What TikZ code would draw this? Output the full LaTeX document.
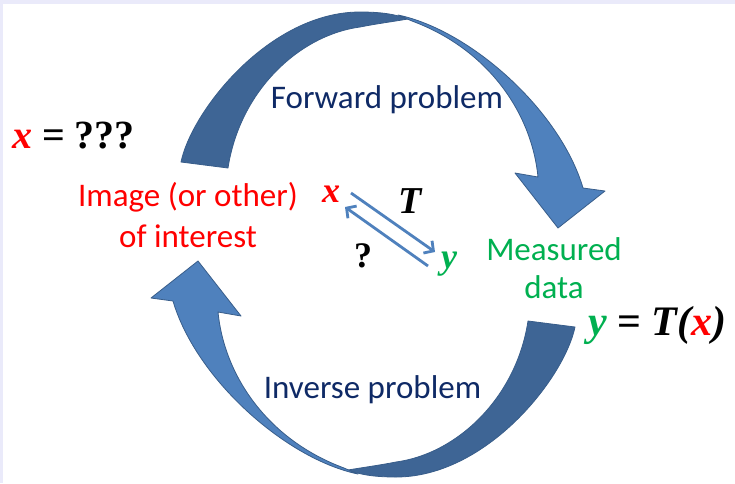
\documentclass[tikz,border=0pt]{standalone}
\usepackage{fontspec}
\setmainfont{Liberation Serif}
\newfontfamily\calibri{Carlito}
\usetikzlibrary{arrows.meta}
\definecolor{lav}{HTML}{EAEAFA}
\definecolor{arrlight}{HTML}{4F81BD}
\definecolor{arrdark}{HTML}{3E6595}
\definecolor{arrline}{HTML}{385D8A}
\definecolor{navy}{HTML}{0F2A66}
\definecolor{mgreen}{HTML}{00B050}
\tikzset{
  rib/.style={draw=arrline, line width=0.8pt, line join=round},
  lbl/.style={font=\calibri\fontsize{33}{40}\selectfont, inner sep=0pt, anchor=base},
  mth/.style={font=\fontsize{40}{48}\selectfont\bfseries, inner sep=0pt, anchor=base west},
  sml/.style={font=\fontsize{36}{40}\selectfont\bfseries\itshape, inner sep=0pt, anchor=base},
  smallarr/.style={draw=arrlight, line width=2.8pt, -{Straight Barb[length=7pt,width=15pt]}},
  curvedarrow/.pic={
    \filldraw[fill=arrdark, rib] (181,162) .. controls (192,110) and (270,12) .. (360,12)
      .. controls (380,12) and (395,14) .. (408,19)
      .. controls (390,22) and (375,24) .. (360,27)
      .. controls (300,35) and (240,90) .. (228,168) -- cycle;
    \filldraw[fill=arrlight, rib] (398,15) .. controls (470,30) and (560,110) .. (583,188)
      -- (605,191) -- (558,228) -- (515,173) -- (538,177)
      .. controls (532,115) and (490,50) .. (412,21) -- cycle;
  }
}
\begin{document}
\begin{tikzpicture}[x=1pt,y=-1pt]
\useasboundingbox (0,0) rectangle (735,483);
\fill[white] (0,0) rectangle (735,483);
\fill[lav] (0,0) rectangle (735,4);
\fill[lav] (0,0) rectangle (3,483);
% big curved arrows
\pic at (0,0) {curvedarrow};
\pic[rotate=180] at (756,489) {curvedarrow};
% labels
\node[lbl, navy] (fwd) at (387,108) {Forward problem};
\node[lbl, navy] (inv) at (372.5,398) {Inverse problem};
\node[lbl, red, align=center] (img) at (188,247) {Image (or other)\\[1pt]of interest};
\node[lbl, mgreen, align=center] (meas) at (554,298) {Measured\\[-2pt]data};
\node[mth] (xq) at (12,148) {\textcolor{red}{\textit{x}} = ???};
\node[mth, font=\fontsize{42}{48}\selectfont\bfseries] (yt) at (588,335) {\textcolor{mgreen}{\textit{y}} = \textit{T(\textcolor{red}{x})}};
% small relation
\node[sml, red] (sx) at (331,202) {x};
\node[sml, mgreen] (sy) at (449,268) {y};
\node[sml, font=\fontsize{38}{40}\selectfont\bfseries\itshape] (sT) at (410,213) {T};
\node[sml, font=\fontsize{36}{40}\selectfont\bfseries] (sq) at (363,267) {?};
\coordinate (a1s) at (351,193);
\coordinate (a1e) at (435,252);
\coordinate (a2s) at (428,266);
\coordinate (a2e) at (345,207);
\draw[smallarr] (a1s) -- (a1e);
\draw[smallarr] (a2s) -- (a2e);
\end{tikzpicture}
\end{document}
